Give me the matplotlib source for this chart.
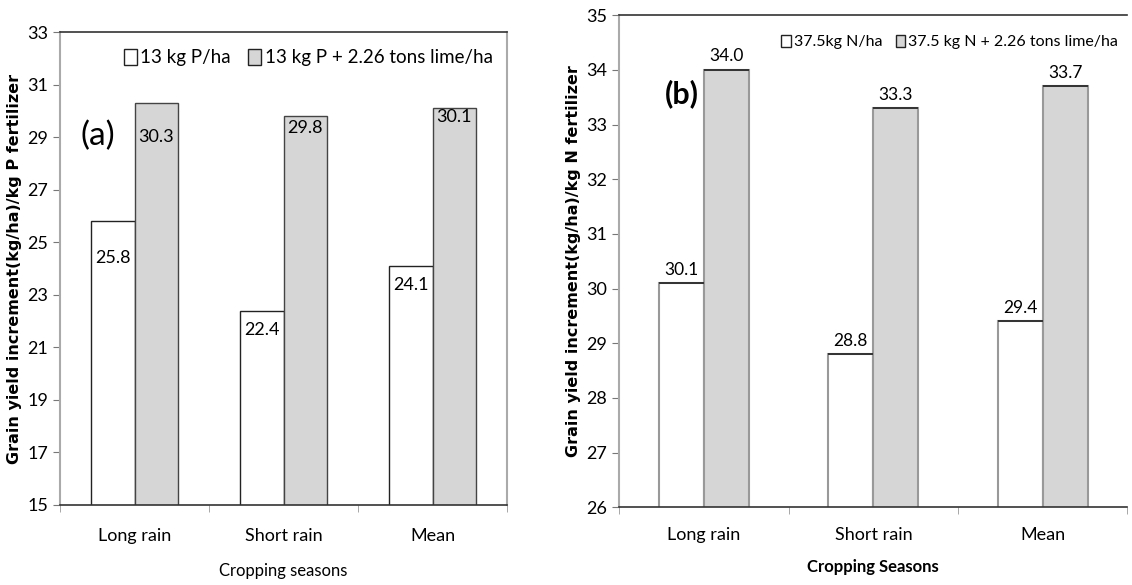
import numpy as np
import matplotlib
matplotlib.use("Agg")
import matplotlib.pyplot as plt
from matplotlib.patches import Patch

plt.rcParams['font.family'] = ['Lato', 'DejaVu Sans']

seasons = ['Long rain', 'Short rain', 'Mean']

# panel (a): P fertilizer
p_only = [25.8, 22.4, 24.1]
p_lime = [30.3, 29.8, 30.1]
p_legend = ['13 kg P/ha', '13 kg P + 2.26 tons lime/ha']
p_ticks = [15, 17, 19, 21, 23, 25, 27, 29, 31, 33]

# panel (b): N fertilizer
n_only = [30.1, 28.8, 29.4]
n_lime = [34.0, 33.3, 33.7]
n_legend = ['37.5kg N/ha', '37.5 kg N + 2.26 tons lime/ha']
n_ticks = [26, 27, 28, 29, 30, 31, 32, 33, 34, 35]

GREY = '#d6d6d6'

fig = plt.figure(figsize=(11.32, 5.85), dpi=100)
ax1 = fig.add_axes([0.053, 0.137, 0.395, 0.808])
ax2 = fig.add_axes([0.547, 0.133, 0.449, 0.841])

x = np.arange(len(seasons)) + 0.5


def style_axes(ax, ticks, ylabel, xlabel, xbold, xpad, lpad):
    ax.set_xlim(0, 3)
    ax.set_ylim(ticks[0], ticks[-1])
    ax.set_yticks(ticks)
    ax.set_xticks(x)
    ax.set_xticklabels(seasons, fontsize=13)
    ax.set_xticks([0, 1, 2, 3], minor=True)
    ax.tick_params(axis='x', which='major', length=0, pad=xpad)
    ax.tick_params(axis='x', which='minor', length=5, direction='out', color='#999999')
    ax.tick_params(axis='y', length=5, direction='out', color='#777777', labelsize=13)
    for s in ['left', 'right']:
        ax.spines[s].set_color('#aaaaaa')
        ax.spines[s].set_linewidth(1.5)
    for s in ['top', 'bottom']:
        ax.spines[s].set_color('#333333')
        ax.spines[s].set_linewidth(1.2)
    ax.set_ylabel(ylabel, fontsize=11.5, fontweight='bold', family='DejaVu Sans', labelpad=4)
    ax.set_xlabel(xlabel, fontsize=12, fontweight='bold' if xbold else 'normal', labelpad=lpad)


# panel (a)
w = 0.29
ax1.bar(x - w / 2, p_only, w, color='white', edgecolor='#222222', linewidth=1)
ax1.bar(x + w / 2, p_lime, w, color=GREY, edgecolor='#444444', linewidth=1)
style_axes(ax1, p_ticks, 'Grain yield increment(kg/ha)/kg P fertilizer', 'Cropping seasons', False, 17, 13)

off_white = [-37, -19, -19]
off_grey = [-34, -12, -9]
for xi, v, o in zip(x - w / 2, p_only, off_white):
    ax1.annotate(f'{v:.1f}', (xi, v), xytext=(0, o), textcoords='offset pixels',
                 ha='center', va='center', fontsize=13)
for xi, v, o in zip(x + w / 2, p_lime, off_grey):
    ax1.annotate(f'{v:.1f}', (xi, v), xytext=(0, o), textcoords='offset pixels',
                 ha='center', va='center', fontsize=13)

ax1.text(0.045, 0.78, '(a)', transform=ax1.transAxes, fontsize=24, va='center')
ax1.legend([Patch(facecolor='white', edgecolor='#222222'), Patch(facecolor=GREY, edgecolor='#222222')],
           p_legend, loc='upper center', bbox_to_anchor=(0.555, 1.0), ncol=2, frameon=False,
           fontsize=13.5, handlelength=0.7, handleheight=0.9, handletextpad=0.2, columnspacing=0.9)

# panel (b)
w2 = 0.265
ax2.bar(x - w2 / 2, n_only, w2, color='white', edgecolor='#999999', linewidth=1.5)
ax2.bar(x + w2 / 2, n_lime, w2, color=GREY, edgecolor='#999999', linewidth=1.5)
ax2.hlines(n_only, x - w2, x, color='#222222', linewidth=1.2)
ax2.hlines(n_lime, x, x + w2, color='#222222', linewidth=1.2)
style_axes(ax2, n_ticks, 'Grain yield increment(kg/ha)/kg N fertilizer', 'Cropping Seasons', True, 14, 12)
ax2.spines['right'].set_visible(False)

for xi, v in zip(np.concatenate([x - w2 / 2, x + w2 / 2]), n_only + n_lime):
    ax2.annotate(f'{v:.1f}', (xi, v), xytext=(0, 4), textcoords='offset points',
                 ha='center', va='bottom', fontsize=12.5)

ax2.text(0.09, 0.84, '(b)', transform=ax2.transAxes, fontsize=22, fontweight='bold', va='center')
ax2.legend([Patch(facecolor='white', edgecolor='#222222'), Patch(facecolor=GREY, edgecolor='#222222')],
           n_legend, loc='upper right', bbox_to_anchor=(1.01, 0.99), ncol=2, frameon=False,
           fontsize=11.5, handlelength=0.6, handleheight=0.8, handletextpad=0.2, columnspacing=0.8)

fig.savefig('out.png', dpi=100)
